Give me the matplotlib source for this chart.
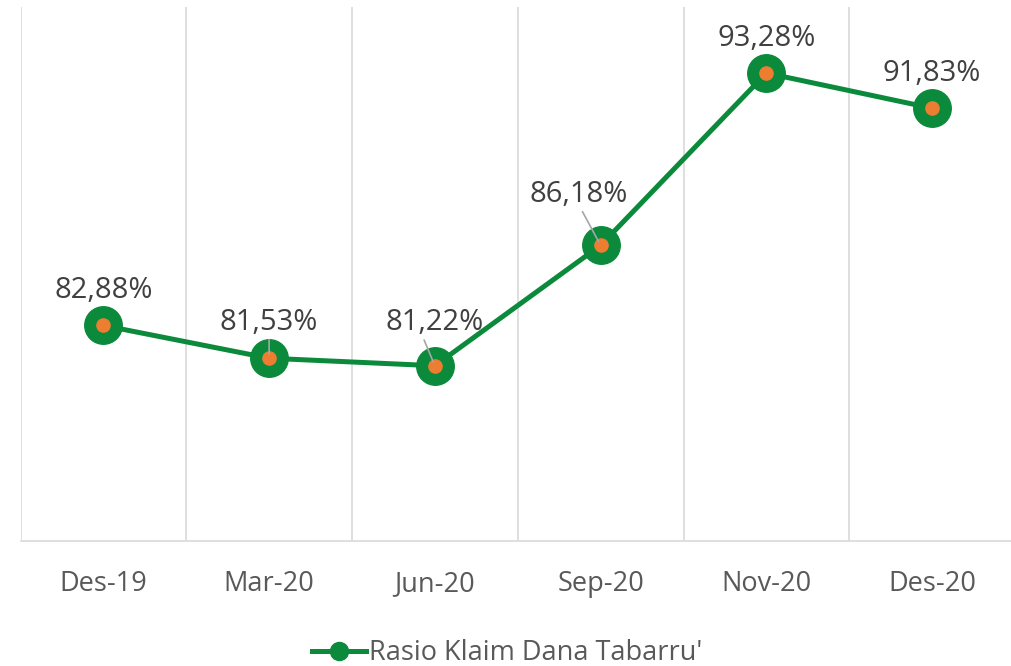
import matplotlib
matplotlib.use("Agg")
import matplotlib.pyplot as plt
from matplotlib.lines import Line2D

categories = ["Des-19", "Mar-20", "Jun-20", "Sep-20", "Nov-20", "Des-20"]
values = [82.88, 81.53, 81.22, 86.18, 93.28, 91.83]
labels = ["82,88%", "81,53%", "81,22%", "86,18%", "93,28%", "91,83%"]
series_name = "Rasio Klaim Dana Tabarru'"

GREEN = "#0B8A3C"
ORANGE = "#ED7D31"
FONT = "Open Sans"

fig = plt.figure(figsize=(10.11, 6.66), dpi=100)
ax = fig.add_axes([20.5 / 1011, 125 / 666, (1015 - 20.5) / 1011, (541 - 7) / 666])

x = list(range(len(categories)))
ax.plot(x, values, color=GREEN, lw=3.6, zorder=3, solid_capstyle="round")
ax.plot(x, values, ls="none", marker="o", ms=27, mfc=GREEN, mec=GREEN, zorder=4)
ax.plot(x, values, ls="none", marker="o", ms=9.5, mfc=ORANGE, mec=ORANGE, zorder=5)

ax.set_xlim(-0.5, len(categories) - 0.5)
ax.set_ylim(74, 96)

# label offsets in pixels (dx, dy) and leader-line anchor
offsets = [(0, 35), (0, 36), (0, 43), (-22, 51), (0, 35), (0, 35)]
leaders = [None, 0.5, 0.36, 0.5, None, None]
for xi, v, lab, (dx, dy), rel in zip(x, values, labels, offsets, leaders):
    kw = {}
    if rel is not None:
        kw["arrowprops"] = dict(arrowstyle="-", color="#A6A6A6", lw=1.2,
                                shrinkA=0, shrinkB=3, relpos=(rel, 0.15))
    ax.annotate(lab, (xi, v), xytext=(dx, dy), textcoords="offset pixels",
                ha="center", va="center", fontsize=21, color="#404040",
                family=FONT, zorder=6, **kw)

# vertical gridlines at category boundaries
for b in range(len(categories) + 1):
    ax.axvline(b - 0.5, color="#D9D9D9", lw=1.2, zorder=1)

for s in ["top", "right", "left"]:
    ax.spines[s].set_visible(False)
ax.spines["bottom"].set_color("#D9D9D9")
ax.spines["bottom"].set_linewidth(1.2)
ax.set_yticks([])
ax.set_xticks(x)
ax.set_xticklabels(categories, family=FONT, fontsize=19.5, color="#595959")
ax.tick_params(axis="x", length=0, pad=21)

handle = Line2D([0], [0], color=GREEN, lw=3.6, marker="o", ms=13, mfc=GREEN, mec=GREEN)
fig.legend([handle], [series_name], loc="center", bbox_to_anchor=(507 / 1011, 1 - 653 / 666),
           frameon=False, prop={"family": FONT, "size": 19.5}, labelcolor="#595959",
           handlelength=2.0, handletextpad=0.1, borderpad=0.1)

fig.savefig("out.png", dpi=100)
